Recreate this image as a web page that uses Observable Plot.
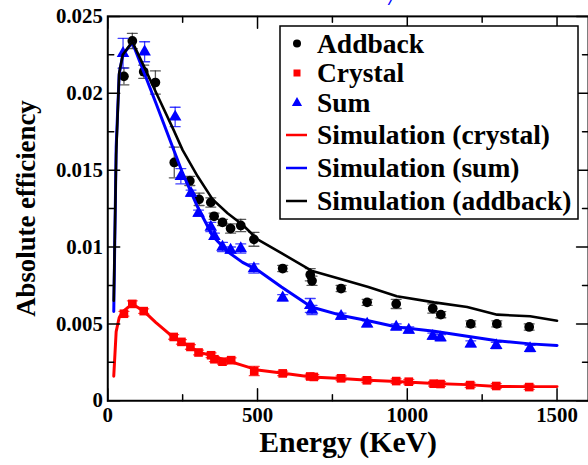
<!DOCTYPE html>
<html><head><meta charset="utf-8">
<script src="https://cdn.jsdelivr.net/npm/d3@7"></script>
<script src="https://cdn.jsdelivr.net/npm/@observablehq/plot@0.6"></script>
<style>
html,body{margin:0;padding:0;background:#fff;overflow:hidden;width:588px;height:465px;}
#wrap{position:relative;width:588px;height:465px;overflow:hidden;}
#chart svg{display:block;}
#legend{position:absolute;left:0;top:0;}
</style></head><body><div id="wrap"><div id="chart"></div><svg id="legend" width="588" height="465"></svg></div>
<script>
// ---- data ----
const addbackEnergy = [54, 82, 120, 159, 222, 274, 305, 344, 355, 383, 410, 444, 488, 584, 676, 682, 779, 866, 963, 1085, 1112, 1212, 1299, 1407];
const addbackEff    = [0.0211, 0.0234, 0.0214, 0.0207, 0.0155, 0.0143, 0.0131, 0.0129, 0.0120, 0.0116, 0.0112, 0.0114, 0.0105, 0.0086, 0.0082, 0.0078, 0.0073, 0.0064, 0.0063, 0.0060, 0.0056, 0.0050, 0.0050, 0.0048];
const addbackErr    = [0.00055, 0.0005, 0.00043, 0.00075, 0.0010, 0.0003, 0.0004, 0.0003, 0.0002, 0.0002, 0.0003, 0.0004, 0.00045, 0.0002, 0.0004, 0.0003, 0.0002, 0.0002, 0.0003, 0.0003, 0.0002, 0.0002, 0.0002, 0.0002];

const crystalEnergy = [54, 82, 120, 220, 246, 276, 303, 345, 356, 383, 412, 489, 584, 676, 688, 779, 865, 963, 1005, 1088, 1111, 1210, 1297, 1407];
const crystalEff    = [0.00566, 0.0063, 0.00583, 0.00415, 0.00383, 0.0035, 0.00314, 0.00296, 0.0027, 0.00254, 0.00264, 0.00193, 0.00178, 0.00158, 0.00155, 0.00146, 0.00133, 0.00128, 0.00124, 0.00111, 0.00109, 0.00102, 0.00096, 0.00089];
const crystalErr    = [0.00015, 0.0002, 0.00015, 0.00015, 0.00015, 0.00015, 0.00015, 0.00015, 0.00015, 0.00015, 0.00015, 0.0003, 0.00015, 0.00015, 0.00015, 0.00015, 0.00015, 0.00015, 0.00015, 0.00015, 0.00015, 0.00015, 0.00015, 0.00015];

const sumEnergy = [51, 123, 225, 244, 278, 303, 344, 356, 383, 410, 444, 488, 584, 676, 682, 779, 866, 963, 1005, 1085, 1111, 1212, 1297, 1410];
const sumEff    = [0.0226, 0.0227, 0.01846, 0.0146, 0.0135, 0.0122, 0.0113, 0.0107, 0.0100, 0.0098, 0.0099, 0.0086, 0.0067, 0.0062, 0.0059, 0.0055, 0.0050, 0.0048, 0.0046, 0.0042, 0.0041, 0.0037, 0.0036, 0.0034];
const sumErr    = [0.00097, 0.00065, 0.00063, 0.0005, 0.0002, 0.0002, 0.0003, 0.0002, 0.0003, 0.0002, 0.0003, 0.0003, 0.0002, 0.00045, 0.0003, 0.0002, 0.0002, 0.0002, 0.0002, 0.0002, 0.0002, 0.0002, 0.0002, 0.0002];

const simEnergy       = [20, 28, 38, 50, 82, 122, 160, 220, 250, 300, 350, 400, 450, 500, 580, 680, 780, 870, 965, 1090, 1200, 1300, 1410, 1500];
const simAddback      = [0.0065, 0.0160, 0.0213, 0.0225, 0.02335, 0.0217, 0.0201, 0.0176, 0.0163, 0.0146, 0.0131, 0.0122, 0.01145, 0.0105, 0.0096, 0.00846, 0.0079, 0.0074, 0.0068, 0.0064, 0.0061, 0.0056, 0.0055, 0.0052];
const simSum          = [0.0058, 0.0165, 0.0212, 0.0225, 0.0233, 0.0213, 0.0194, 0.01633, 0.0148, 0.0126, 0.01072, 0.0097, 0.0090, 0.0085, 0.0074, 0.0061, 0.00555, 0.0052, 0.0048, 0.00452, 0.0042, 0.0039, 0.0037, 0.0036];
const simCrystal      = [0.0016, 0.0045, 0.0054, 0.0058, 0.0063, 0.0058, 0.0051, 0.0041, 0.0038, 0.0032, 0.0029, 0.0026, 0.0023, 0.0020, 0.0018, 0.00155, 0.00145, 0.00133, 0.00125, 0.00113, 0.00105, 0.00093, 0.00092, 0.00092];

const xMajorTicks = [0, 500, 1000, 1500];
const xMinorTicks = [250, 750, 1250];
const yMajorTicks = [0, 0.005, 0.01, 0.015, 0.02, 0.025];
const yMinorTicks = [0.0025, 0.0075, 0.0125, 0.0175, 0.0225];
const yTickLabels = ["0", "0.005", "0.01", "0.015", "0.02", "0.025"];

const xTitle = "Energy (KeV)";
const yTitle = "Absolute efficiency";
const legendLabels = ["Addback", "Crystal", "Sum", "Simulation (crystal)", "Simulation (sum)", "Simulation (addback)"];

// ---- build tables ----
const pts = (E, V, Er) => E.map((e, i) => ({e, v: V[i], err: Er[i]}));
const addback = pts(addbackEnergy, addbackEff, addbackErr);
const crystal = pts(crystalEnergy, crystalEff, crystalErr);
const sum = pts(sumEnergy, sumEff, sumErr);
const sim = simEnergy.map((e, i) => ({e, a: simAddback[i], s: simSum[i], c: simCrystal[i]}));

const RED = "#ff0000", BLUE = "#0000ff", BLACK = "#000000";
const FONT = "Liberation Serif, DejaVu Serif, serif";

const tickShape = {draw(ctx, l) { ctx.moveTo(0, 0); ctx.lineTo(0, -l); }};
const capShape = {draw(ctx, l) { ctx.moveTo(-l / 2, 0); ctx.lineTo(l / 2, 0); }};

function ticks(values, anchor, rot, len) {
  const o = {frameAnchor: anchor, length: len, rotate: rot, anchor: "start", shape: tickShape, stroke: BLACK, strokeWidth: 1.5};
  if (anchor === "top" || anchor === "bottom") o.x = d => d; else o.y = d => d;
  return Plot.vector(values, o);
}

function errorBars(data, color) {
  return [
    Plot.ruleX(data, {x: "e", y1: d => d.v - d.err, y2: d => d.v + d.err, stroke: color, strokeWidth: 1.3, strokeOpacity: 0.75}),
    Plot.vector(data, {x: "e", y: d => d.v + d.err, length: 10, rotate: 0, anchor: "start", shape: capShape, stroke: color, strokeWidth: 1.3, strokeOpacity: 0.75}),
    Plot.vector(data, {x: "e", y: d => d.v - d.err, length: 10, rotate: 0, anchor: "start", shape: capShape, stroke: color, strokeWidth: 1.3, strokeOpacity: 0.75})
  ];
}

const chart = Plot.plot({
  width: 592, height: 465,
  marginLeft: 108, marginRight: 0, marginTop: 16, marginBottom: 62,
  style: {fontFamily: FONT, fontWeight: "bold", fontSize: "21px", color: "black", background: "white"},
  x: {domain: [0, 1605]},
  y: {domain: [0, 0.025]},
  marks: [
    Plot.axisX(xMajorTicks, {tickSize: 0, tickPadding: 6, fontSize: 21, fontWeight: "bold", fontFamily: FONT, label: null, tickFormat: d => String(d)}),
    Plot.axisY(yMajorTicks, {tickSize: 0, tickPadding: 5, fontSize: 21, fontWeight: "bold", fontFamily: FONT, label: null, tickFormat: (d, i) => yTickLabels[i]}),
    // data: addback, crystal, sum
    ...errorBars(addback, "#222"),
    Plot.dot(addback, {x: "e", y: "v", r: 4.9, fill: BLACK, symbol: "circle"}),
    ...errorBars(crystal, RED),
    Plot.dot(crystal, {x: "e", y: "v", r: 4.9, fill: RED, symbol: "square"}),
    ...errorBars(sum, BLUE),
    Plot.dot(sum, {x: "e", y: "v", r: 4.7, fill: BLUE, symbol: "triangle"}),
    // simulations
    Plot.line(sim, {x: "e", y: "c", stroke: RED, strokeWidth: 3}),
    Plot.line(sim, {x: "e", y: "s", stroke: BLUE, strokeWidth: 3}),
    Plot.line(sim, {x: "e", y: "a", stroke: BLACK, strokeWidth: 2.6}),
    // inward tick marks on all four sides
    ticks(xMajorTicks, "bottom", 0, 12), ticks(xMinorTicks, "bottom", 0, 6),
    ticks(xMajorTicks, "top", 180, 12), ticks(xMinorTicks, "top", 180, 6),
    ticks(yMajorTicks, "left", 90, 12), ticks(yMinorTicks, "left", 90, 6),
    ticks(yMajorTicks, "right", -90, 12), ticks(yMinorTicks, "right", -90, 6),
    Plot.frame({stroke: BLACK, strokeWidth: 2}),
    Plot.text([xTitle], {text: d => d, frameAnchor: "bottom", textAnchor: "middle", lineAnchor: "middle", dy: 42, fontSize: 30, fontWeight: "bold", fontFamily: FONT}),
    Plot.text([yTitle], {text: d => d, frameAnchor: "left", textAnchor: "middle", lineAnchor: "middle", rotate: -90, dx: -82, fontSize: 27, fontWeight: "bold", fontFamily: FONT})
  ]
});
document.getElementById("chart").appendChild(chart);

// ---- legend (overlay) ----
const lg = d3.select("#legend");
lg.append("text").attr("x", 392).attr("y", 5).attr("fill", BLUE).attr("font-family", FONT)
  .attr("font-style", "italic").attr("font-weight", "bold").attr("font-size", 22).attr("text-anchor", "middle").text("/");
lg.append("rect").attr("x", 280).attr("y", 26).attr("width", 298).attr("height", 193)
  .attr("fill", "white").attr("stroke", "black").attr("stroke-width", 1.5);
const rowsY = [43.5, 73, 103, 135, 168, 201];
const sx = 297, tx = 317;
lg.append("circle").attr("cx", sx).attr("cy", rowsY[0]).attr("r", 4).attr("fill", BLACK);
lg.append("rect").attr("x", sx - 3.5).attr("y", rowsY[1] - 3.5).attr("width", 7).attr("height", 7).attr("fill", RED);
lg.append("path").attr("d", d3.symbol(d3.symbolTriangle, 45)()).attr("transform", `translate(${sx},${rowsY[2]})`).attr("fill", BLUE);
[[RED, 3], [BLUE, 4], [BLACK, 5]].forEach(([c, i]) => {
  lg.append("line").attr("x1", sx - 11).attr("x2", sx + 10).attr("y1", rowsY[i]).attr("y2", rowsY[i]).attr("stroke", c).attr("stroke-width", 2.5);
});
legendLabels.forEach((t, i) => {
  lg.append("text").attr("x", tx).attr("y", rowsY[i]).attr("dy", "0.33em").attr("font-family", FONT)
    .attr("font-weight", "bold").attr("font-size", 27.5).attr("fill", "black").text(t);
});
</script>
</body></html>
